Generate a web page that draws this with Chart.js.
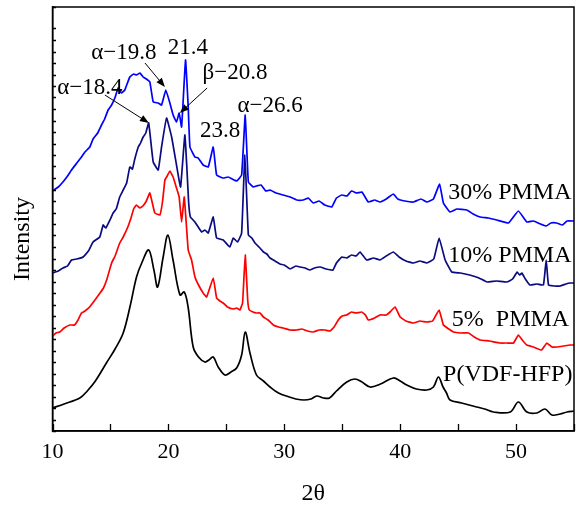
<!DOCTYPE html>
<html>
<head>
<meta charset="utf-8">
<script src="https://cdn.jsdelivr.net/npm/chart.js@4.4.1/dist/chart.umd.min.js"></script>
<style>
  html, body { margin: 0; padding: 0; background: #fff; }
  canvas { display: block; }
</style>
</head>
<body>
<canvas id="c" width="576" height="506"></canvas>
<script>
// 2θ range and ticks
const xMin = 10, xMax = 55, xStep = 5;
const yMin = 0, yMax = 424, yStep = 11.5; // arbitrary intensity units (stacked, offset)

// Series: [2θ, intensity (offset)]
const pvdfHfp = [[10,23],[11,27],[12.36,33],[13.0,40],[13.7,50],[14.65,68],[15.4,82],[16.1,98],[16.7,125],[17.25,154],[17.7,168],[18.3,181],[18.75,161],[19.07,144],[19.55,174],[19.96,196],[20.4,171],[21.0,136],[21.37,139],[21.7,124],[22.14,84],[22.6,74],[23.15,69],[23.5,71],[23.87,74],[24.3,64],[24.88,56],[25.4,59],[25.89,63],[26.32,76],[26.63,99],[27.04,78],[27.6,56],[28.2,50],[28.77,44],[29.5,38],[30.43,34],[31.0,32],[31.7,31],[32.3,32],[32.8,35],[33.4,33],[33.9,33],[34.5,40],[35.39,49],[36.1,52],[36.7,49],[37.4,44],[38.3,47],[39.41,53],[40.0,50],[40.57,46],[41.4,42],[42.3,41],[42.87,44],[43.3,54],[43.7,44],[44.0,38],[44.3,31],[45.3,28],[46.6,24],[47.3,22],[48.05,19],[49.5,19],[50.2,29],[50.93,19],[51.8,18],[52.5,22],[53.1,16],[53.8,17],[54.4,19],[55,20]];

const pmma5 = [[10,95],[10.3,98],[10.63,99],[11.0,103],[11.5,106],[11.9,106],[12.2,111],[12.5,118],[12.8,120],[13.2,124],[13.6,130],[14.1,138],[14.4,143],[14.7,152],[15.1,168],[15.4,175],[15.8,188],[16.1,194],[16.5,204],[16.8,214],[17.0,222],[17.25,226],[17.54,223],[17.8,225],[18.1,230],[18.4,238],[18.83,218],[19.27,216],[19.5,230],[19.7,251],[19.9,255],[20.13,260],[20.41,254],[20.7,243],[20.93,234],[21.14,209],[21.37,234],[21.71,181],[22.0,171],[22.29,154],[22.6,146],[23.0,138],[23.3,134],[23.87,153],[24.16,133],[24.45,130],[24.73,128],[25.1,124],[25.6,122],[25.9,123],[26.17,121],[26.4,128],[26.63,176],[26.85,130],[26.98,121],[27.3,119],[27.6,118],[27.9,118],[28.2,114],[28.6,111],[29.05,106],[29.5,104],[29.9,103],[30.5,101],[31.07,101],[31.5,102],[32.0,100],[32.5,99],[33.0,101],[33.5,101],[33.95,100],[34.3,104],[34.66,111],[35.0,115],[35.39,116],[35.8,119],[36.2,118],[36.68,119],[37.0,116],[37.25,111],[37.8,113],[38.26,116],[38.8,116],[39.13,119],[39.56,124],[40.0,114],[40.5,110],[41.14,108],[41.7,110],[42.3,109],[42.8,110],[43.36,121],[43.73,106],[44.2,102],[44.6,99],[45.2,98],[45.9,98],[46.4,94],[46.9,91],[47.7,90],[48.6,88],[49.2,88],[49.78,88],[50.2,96],[50.6,90],[50.93,86],[51.5,84],[52.2,81],[52.66,88],[53.1,84],[53.5,84],[54.1,85],[54.65,86],[55,86]];

const pmma10 = [[10,158],[10.5,160],[10.9,163],[11.3,165],[11.64,171],[12.1,172],[12.64,174],[13.1,180],[13.5,189],[14.08,194],[14.37,206],[14.6,203],[15.0,212],[15.23,218],[15.5,222],[15.8,234],[16.1,241],[16.4,248],[16.67,264],[16.9,262],[17.1,272],[17.4,284],[17.6,288],[17.82,294],[18.05,298],[18.3,308],[18.69,269],[19.12,261],[19.41,284],[19.84,313],[20.28,294],[20.7,266],[21.05,244],[21.42,296],[21.6,262],[21.75,228],[21.9,214],[22.29,209],[22.87,199],[23.15,201],[23.44,198],[23.87,214],[24.16,193],[24.73,191],[25.3,184],[25.6,193],[25.97,189],[26.32,198],[26.6,276],[26.9,196],[27.2,193],[27.47,188],[27.9,183],[28.2,179],[28.5,177],[28.77,173],[29.2,170],[29.63,167],[30.0,166],[30.5,162],[31.0,165],[31.36,164],[31.8,163],[32.2,161],[32.6,163],[33.1,164],[33.6,162],[34.2,161],[34.5,168],[34.96,174],[35.39,173],[35.8,176],[36.2,175],[36.54,179],[37.1,171],[37.7,173],[38.26,171],[38.8,175],[39.41,179],[39.9,174],[40.5,170],[41.14,168],[41.7,170],[42.3,168],[42.9,172],[43.36,193],[43.88,171],[44.45,159],[45.2,158],[46.0,156],[46.8,153],[47.5,149],[48.3,150],[49.2,149],[49.7,152],[50.1,159],[50.3,156],[50.5,158],[50.8,152],[51.2,146],[51.8,147],[52.36,146],[52.6,171],[52.8,146],[53.3,145],[53.8,145],[54.3,147],[54.65,148],[55,148]];

const pmma30 = [[10,240],[10.5,244],[10.9,249],[11.3,255],[11.64,261],[12.1,268],[12.5,274],[12.8,279],[13.22,284],[13.5,292],[13.9,298],[14.23,306],[14.5,312],[14.8,321],[15.1,326],[15.38,333],[15.67,343],[15.95,338],[16.24,341],[16.67,354],[17.0,357],[17.25,356],[17.55,358],[17.82,354],[18.1,352],[18.4,349],[18.69,329],[19.12,328],[19.41,326],[19.78,341],[20.13,328],[20.41,316],[20.7,309],[20.93,318],[21.14,304],[21.48,371],[21.71,324],[21.86,284],[22.29,274],[22.57,273],[23.0,266],[23.44,264],[23.87,284],[24.16,256],[24.73,253],[25.16,254],[25.5,252],[25.9,250],[26.32,256],[26.63,316],[26.9,249],[27.32,244],[27.6,245],[28.0,246],[28.4,240],[28.77,241],[29.3,238],[29.9,236],[30.5,234],[31.07,231],[31.64,231],[32.07,233],[32.5,228],[33.0,230],[33.5,226],[34.1,224],[34.5,233],[34.96,236],[35.4,235],[35.8,240],[36.25,238],[36.7,239],[37.25,229],[37.8,231],[38.26,229],[38.8,232],[39.41,237],[39.8,232],[40.4,230],[41.14,229],[41.8,232],[42.3,229],[42.87,232],[43.4,247],[43.73,228],[44.3,219],[44.9,222],[45.75,221],[46.3,217],[46.9,214],[47.6,213],[48.34,211],[49.35,208],[50.2,220],[50.93,209],[51.5,210],[52.1,207],[52.6,205],[53.0,208],[53.5,208],[54.0,206],[54.4,210],[55,210]];

const seriesNames = ['P(VDF-HFP)', '5%  PMMA', '10% PMMA', '30% PMMA'];
const seriesColors = ['#000000', '#ff0000', '#0a0a82', '#0000ff'];

// Annotation texts (positions in data units)
const peakLabels = [
  { text: 'α−18.4', x: 13.22, y: 343 },
  { text: 'α−19.8', x: 16.16, y: 378 },
  { text: '21.4',   x: 21.68, y: 383 },
  { text: 'β−20.8', x: 25.75, y: 358 },
  { text: '23.8',   x: 24.46, y: 300 },
  { text: 'α−26.6', x: 28.78, y: 325 }
];
const peakArrows = [
  { from: [14.52, 336], to: [18.32, 308] },
  { from: [17.98, 368], to: [19.70, 344] },
  { from: [23.34, 343], to: [20.99, 318] }
];
const curveLabels = [
  { text: '30% PMMA',   x: 44.14, y: 238 },
  { text: '10% PMMA',   x: 44.14, y: 175 },
  { text: '5%  PMMA',   x: 44.46, y: 111 },
  { text: 'P(VDF-HFP)', x: 43.70, y: 56 }
];

const FONT = "'Liberation Serif', 'Times New Roman', serif";

const toPts = arr => arr.map(p => ({ x: p[0], y: p[1] }));
const allSeries = [pvdfHfp, pmma5, pmma10, pmma30];

const framePlugin = {
  id: 'framePlugin',
  afterDraw(chart) {
    const { ctx, chartArea: a, scales: { x, y } } = chart;
    ctx.save();
    // box
    ctx.strokeStyle = '#000';
    ctx.lineWidth = 1.5;
    ctx.strokeRect(a.left, a.top, a.right - a.left, a.bottom - a.top);
    // inward ticks
    ctx.lineWidth = 1.3;
    ctx.beginPath();
    x.ticks.forEach(t => {
      const px = Math.round(x.getPixelForValue(t.value)) + 0.5;
      ctx.moveTo(px, a.bottom);
      ctx.lineTo(px, a.bottom - 7);
    });
    y.ticks.forEach(t => {
      const py = Math.round(y.getPixelForValue(t.value)) + 0.5;
      ctx.moveTo(a.left, py);
      ctx.lineTo(a.left + 3.5, py);
    });
    ctx.stroke();

    // y title
    ctx.fillStyle = '#000';
    ctx.font = '24px ' + FONT;
    ctx.textAlign = 'center';
    ctx.textBaseline = 'middle';
    ctx.save();
    ctx.translate(23, y.getPixelForValue(192));
    ctx.rotate(-Math.PI / 2);
    ctx.fillText('Intensity', 0, 0);
    ctx.restore();

    // peak labels
    ctx.font = '23px ' + FONT;
    ctx.textAlign = 'center';
    peakLabels.forEach(l => {
      ctx.fillText(l.text, x.getPixelForValue(l.x), y.getPixelForValue(l.y));
    });
    // curve labels
    ctx.font = '24px ' + FONT;
    ctx.textAlign = 'left';
    curveLabels.forEach(l => {
      ctx.fillText(l.text, x.getPixelForValue(l.x), y.getPixelForValue(l.y));
    });
    // arrows
    ctx.lineWidth = 1;
    peakArrows.forEach(ar => {
      const x1 = x.getPixelForValue(ar.from[0]), y1 = y.getPixelForValue(ar.from[1]);
      const x2 = x.getPixelForValue(ar.to[0]), y2 = y.getPixelForValue(ar.to[1]);
      const ang = Math.atan2(y2 - y1, x2 - x1);
      const hl = 9, hw = 3.5;
      ctx.beginPath();
      ctx.moveTo(x1, y1);
      ctx.lineTo(x2 - Math.cos(ang) * hl * 0.8, y2 - Math.sin(ang) * hl * 0.8);
      ctx.stroke();
      ctx.beginPath();
      ctx.moveTo(x2, y2);
      ctx.lineTo(x2 - Math.cos(ang) * hl - Math.sin(ang) * hw, y2 - Math.sin(ang) * hl + Math.cos(ang) * hw);
      ctx.lineTo(x2 - Math.cos(ang) * hl + Math.sin(ang) * hw, y2 - Math.sin(ang) * hl - Math.cos(ang) * hw);
      ctx.closePath();
      ctx.fill();
    });
    ctx.restore();
  }
};

new Chart(document.getElementById('c'), {
  type: 'line',
  data: {
    datasets: allSeries.map((s, i) => ({
      label: seriesNames[i],
      data: toPts(s),
      borderColor: seriesColors[i],
      backgroundColor: seriesColors[i],
      borderWidth: 1.7,
      pointRadius: 0,
      tension: i === 0 ? 0.35 : 0.1,
      fill: false
    }))
  },
  options: {
    responsive: false,
    animation: false,
    events: [],
    parsing: true,
    layout: { padding: { top: 7, right: 2, left: 0, bottom: 0 } },
    plugins: { legend: { display: false }, tooltip: { enabled: false } },
    scales: {
      x: {
        type: 'linear',
        min: xMin, max: xMax,
        ticks: {
          stepSize: xStep,
          autoSkip: false,
          maxRotation: 0,
          padding: 8,
          color: '#000',
          font: { family: FONT, size: 22 },
          callback: v => (v % 10 === 0 ? String(v) : '')
        },
        grid: { drawOnChartArea: false, drawTicks: false },
        border: { display: true, color: '#000', width: 1.5 },
        title: {
          display: true, text: '2θ', color: '#000',
          font: { family: FONT, size: 24, lineHeight: 1.0 },
          padding: { top: 0, bottom: 0 }
        },
        afterFit: s => { s.height = 75; s.paddingLeft = 0; s.paddingRight = 0; }
      },
      y: {
        type: 'linear',
        min: yMin, max: yMax,
        ticks: { stepSize: yStep, callback: () => '', autoSkip: false },
        grid: { drawOnChartArea: false, drawTicks: false },
        border: { display: true, color: '#000', width: 1.5 },
        afterFit: s => { s.width = 52.5; s.paddingTop = 0; s.paddingBottom = 0; }
      }
    }
  },
  plugins: [framePlugin]
});
</script>
</body>
</html>
